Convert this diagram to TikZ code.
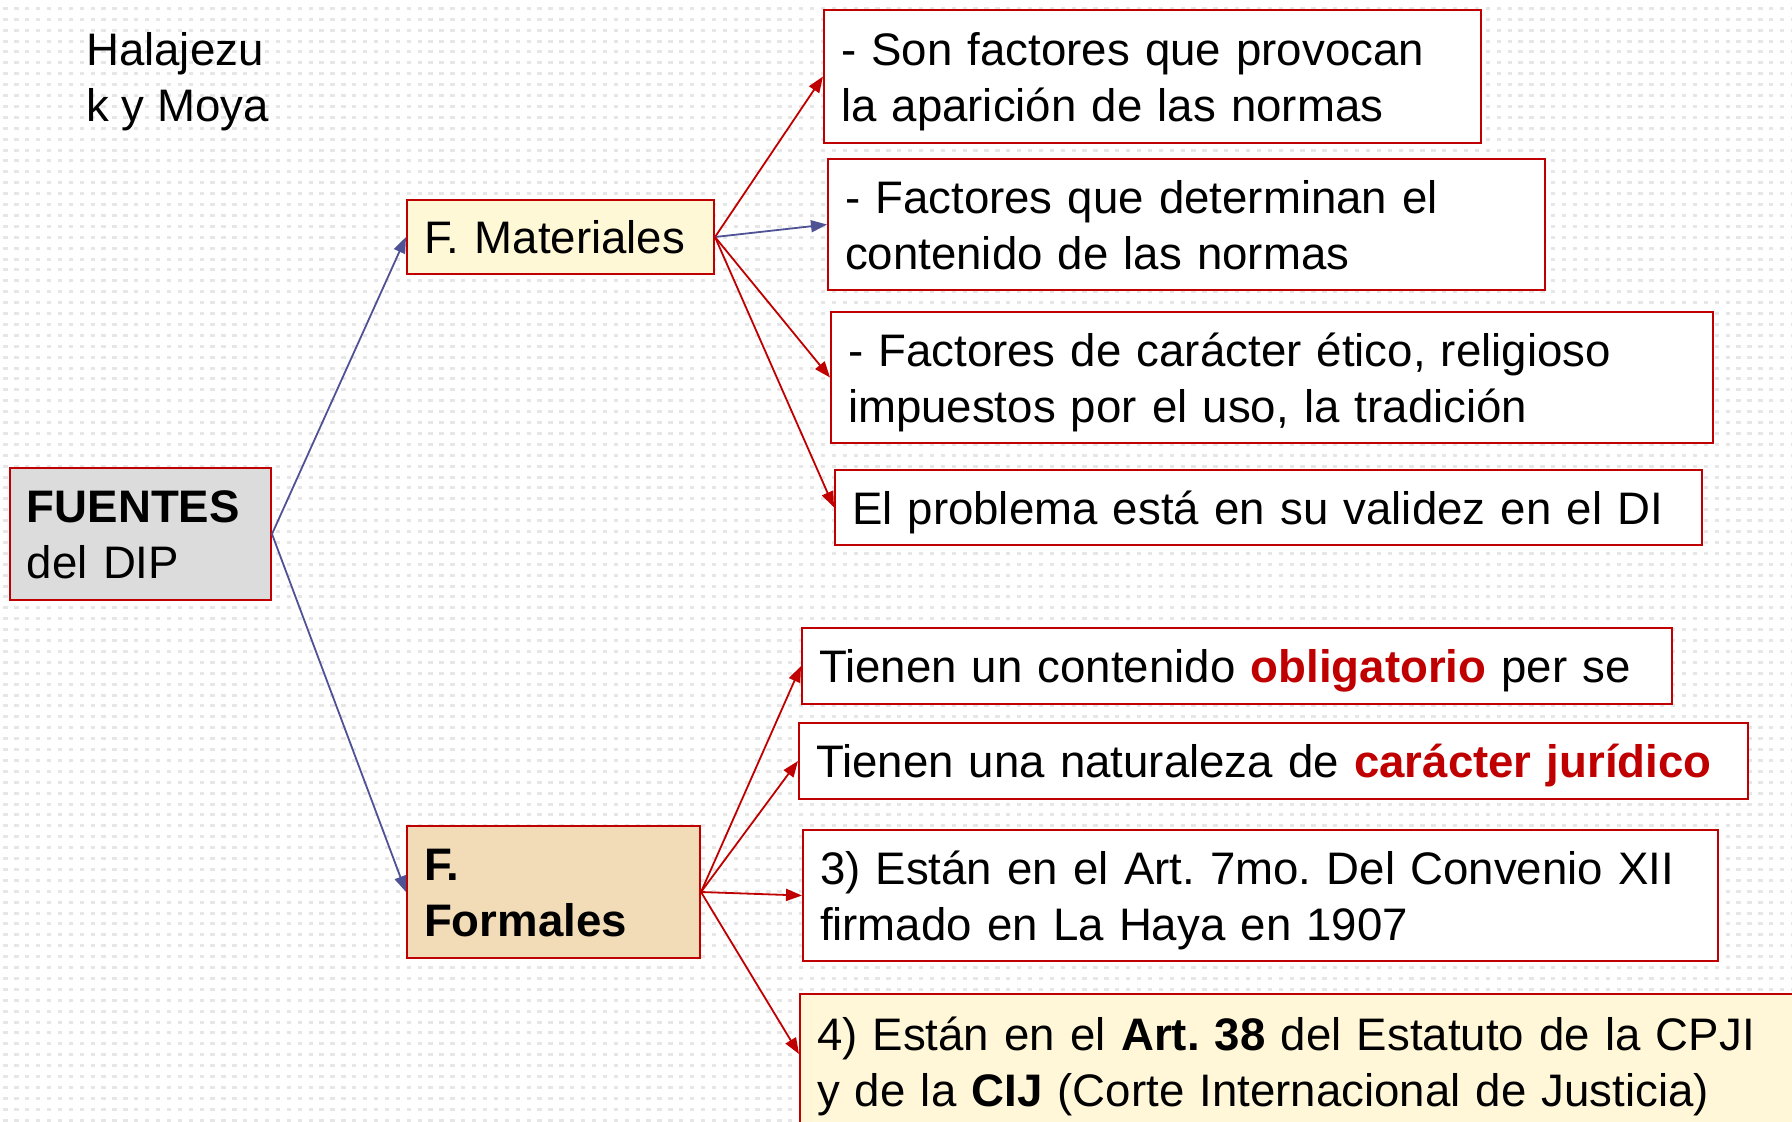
\documentclass[tikz,border=0pt]{standalone}
\usepackage{fontspec}
\setmainfont{Liberation Sans}
\usetikzlibrary{arrows.meta,calc}
\definecolor{dred}{RGB}{192,0,0}
\definecolor{slate}{RGB}{80,82,150}
\definecolor{matfill}{RGB}{255,248,214}
\definecolor{formfill}{RGB}{242,220,184}
\definecolor{greyfill}{RGB}{220,220,220}
\definecolor{bEfill}{RGB}{255,247,216}
\definecolor{dotc}{RGB}{230,230,230}
\newcommand\mystr{\rule[-11pt]{0pt}{55pt}}
\frenchspacing
\begin{document}
\begin{tikzpicture}[x=1pt,y=-1pt,
  box/.style={draw=dred, line width=2pt, fill=white, anchor=north west,
    inner xsep=17pt, inner ysep=0pt, align=left,
    font=\fontsize{45.6}{56}\selectfont\frenchspacing},
  bl/.style={draw=slate, line width=1.8pt, -{Triangle[length=16pt,width=12pt]}},
  rd/.style={draw=dred, line width=1.8pt, -{Triangle[length=16pt,width=12pt]}},
]
\useasboundingbox (0,0) rectangle (1792,1122);
\clip (0,0) rectangle (1792,1122);
\fill[white] (0,0) rectangle (1792,1122);
\foreach \r in {0,...,102}
  \draw[dotc, line width=3pt, dash pattern=on 4.3pt off 6.6pt, dash phase=7.6pt]
    (0,8.3+10.9*\r) -- (1792,8.3+10.9*\r);

\node[anchor=north west, inner sep=0pt, align=left,
  font=\fontsize{45.6}{56}\selectfont] (author) at (86,21) {\mystr Halajezu\\k y Moya};

\node[box, fill=greyfill, text width=227pt, minimum height=132pt] (fuentes) at (9,467)
  {\mystr\textbf{FUENTES}\\del DIP\mystr};
\node[box, fill=matfill, text width=273pt, minimum height=74pt] (mat) at (406,199)
  {\mystr F. Materiales\mystr};
\node[box, fill=formfill, text width=259pt, minimum height=132pt] (form) at (406,825)
  {\mystr\textbf{F.}\\\textbf{Formales}\mystr};

\node[box, text width=623pt, minimum height=133pt] (b1) at (823,9)
  {\mystr - Son factores que provocan\\la aparición de las normas\mystr};
\node[box, text width=683pt, minimum height=131pt] (b2) at (827,158)
  {\mystr - Factores que determinan el\\contenido de las normas\mystr};
\node[box, text width=848pt, minimum height=131pt] (b3) at (830,311)
  {\mystr - Factores de carácter ético, religioso\\impuestos por el uso, la tradición\mystr};
\node[box, text width=833pt, minimum height=75pt] (b4) at (834,469)
  {\mystr El problema está en su validez en el DI\mystr};

\node[box, text width=836pt, minimum height=76pt] (b5) at (801,627)
  {\mystr Tienen un contenido \textcolor{dred}{\textbf{obligatorio}} per se\mystr};
\node[box, text width=915pt, minimum height=76pt] (b6) at (798,722)
  {\mystr Tienen una naturaleza de \textcolor{dred}{\textbf{carácter jurídico}}\mystr};
\node[box, text width=881pt, minimum height=131pt] (b7) at (802,829)
  {\mystr 3) Están en el Art. 7mo. Del Convenio XII\\firmado en La Haya en 1907\mystr};
\node[box, fill=bEfill, text width=1066pt, minimum height=135pt] (b8) at (799,993)
  {\mystr 4) Están en el \textbf{Art. 38} del Estatuto de la CPJI\\y de la \textbf{CIJ} (Corte Internacional de Justicia)\mystr};
\coordinate (b8in) at ($(b8.north west)+(0,61)$);

\draw[bl] (fuentes.east) -- (mat.west);
\draw[bl] (fuentes.east) -- (form.west);
\draw[rd] (mat.east) -- (b1.west);
\draw[bl] (mat.east) -- (b2.west);
\draw[rd] (mat.east) -- (b3.west);
\draw[rd] (mat.east) -- (b4.west);
\draw[rd] (form.east) -- (b5.west);
\draw[rd] (form.east) -- (b6.west);
\draw[rd] (form.east) -- (b7.west);
\draw[rd] (form.east) -- (b8in);
\end{tikzpicture}
\end{document}
